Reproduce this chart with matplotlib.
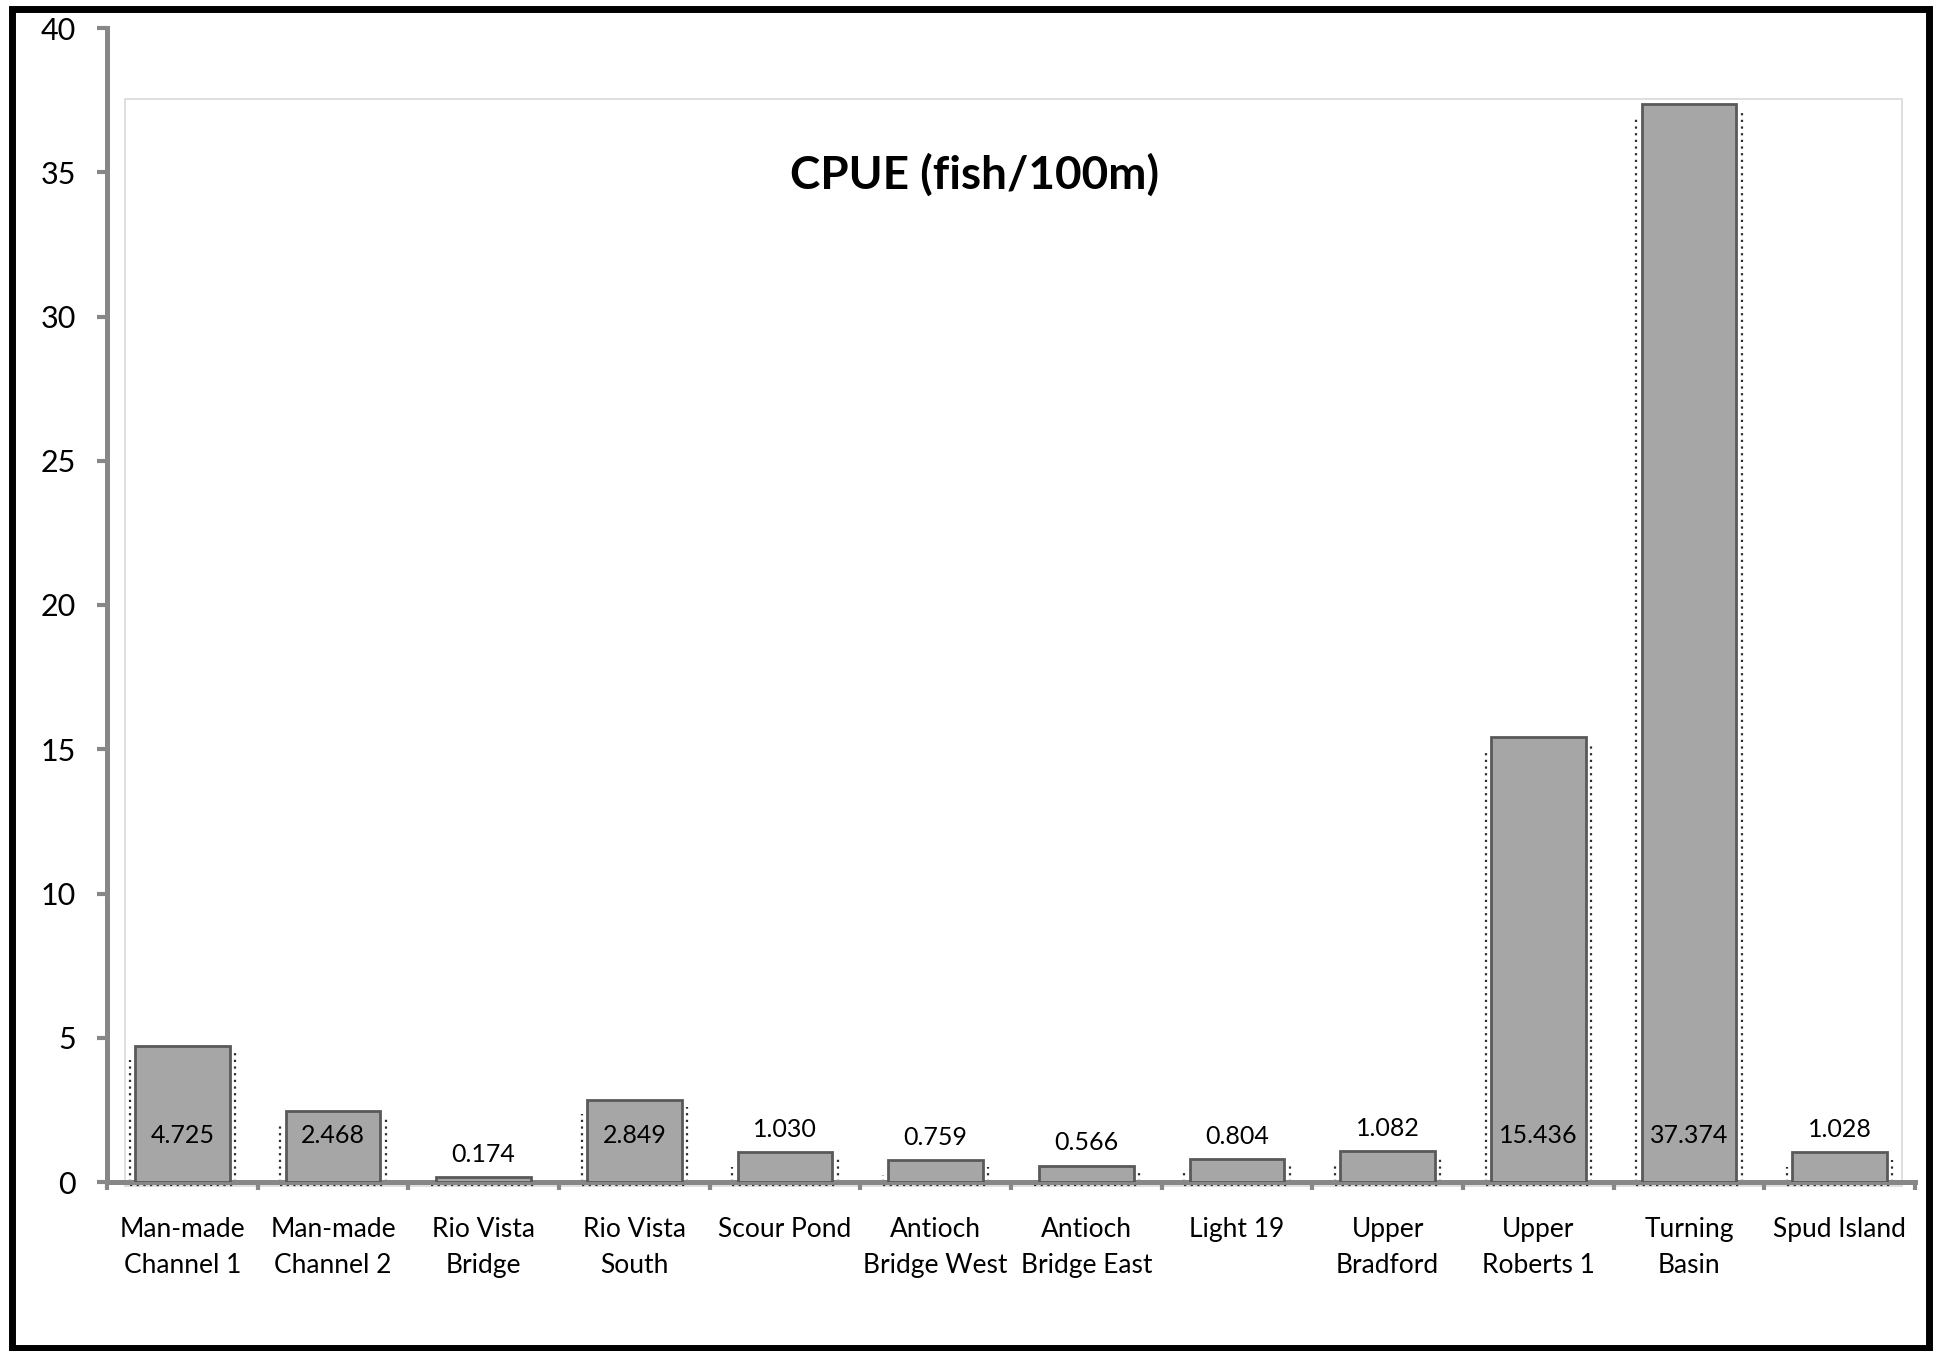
import matplotlib
matplotlib.use("Agg")
import matplotlib.pyplot as plt
from matplotlib.patches import Rectangle

plt.rcParams['font.family'] = ['Lato', 'DejaVu Sans']

sites = ["Man-made\nChannel 1", "Man-made\nChannel 2", "Rio Vista\nBridge",
         "Rio Vista\nSouth", "Scour Pond", "Antioch\nBridge West",
         "Antioch\nBridge East", "Light 19", "Upper\nBradford",
         "Upper\nRoberts 1", "Turning\nBasin", "Spud Island"]
cpue = [4.725, 2.468, 0.174, 2.849, 1.030, 0.759, 0.566, 0.804, 1.082,
        15.436, 37.374, 1.028]
y_ticks = [0, 5, 10, 15, 20, 25, 30, 35, 40]
title = "CPUE (fish/100m)"

W, H = 1941, 1351
DPI = 100
fig = plt.figure(figsize=(W / DPI, H / DPI), dpi=DPI)


def fx(px):
    return px / W


def fy(py):
    return 1 - py / H


# outer black frame and the faint plot-area outline
fig.patches.append(Rectangle((fx(12), fy(1348)), fx(1929) - fx(12), fy(9) - fy(1348),
                             transform=fig.transFigure, fill=False,
                             edgecolor='black', linewidth=5.0, zorder=10))
fig.patches.append(Rectangle((fx(125), fy(1186)), fx(1902) - fx(125), fy(99) - fy(1186),
                             transform=fig.transFigure, fill=False,
                             edgecolor='#d9d9d9', linewidth=1.2, zorder=-1))

ax = fig.add_axes([fx(107), fy(1182), fx(1915) - fx(107), fy(28) - fy(1182)])
ax.patch.set_alpha(0)

n = len(sites)
x = list(range(n))
bw = 0.63
ax.bar(x, cpue, width=bw, color='#a6a6a6', edgecolor='#595959',
       linewidth=2.0, zorder=3)

# dotted shadow outline beside each bar
dot = dict(color='#2e2e2e', linestyle=(0, (1, 2.0)), linewidth=1.6, zorder=2)
for xi, v in zip(x, cpue):
    left = xi - bw / 2 - 0.035
    right = xi + bw / 2 + 0.035
    ax.plot([left, left], [0, max(v - 0.5, 0)], **dot)
    ax.plot([right, right], [0, max(v - 0.25, 0)], **dot)
    ax.plot([left, right], [-0.12, -0.12], clip_on=False, **dot)

# value labels: inside near the base for tall bars, above otherwise
for xi, v in zip(x, cpue):
    if v > 2:
        ax.text(xi, 1.34, f"{v:.3f}", ha='center', va='baseline',
                fontsize=18, color='black', zorder=5)
    else:
        ax.annotate(f"{v:.3f}", (xi, v), xytext=(0, 11), textcoords='offset points',
                    ha='center', va='baseline', fontsize=18, color='black', zorder=5)

ax.set_xlim(-0.5, n - 0.5)
ax.set_ylim(0, 40)
ax.set_yticks(y_ticks)
ax.set_yticklabels([str(t) for t in y_ticks])

ax.set_xticks([k - 0.5 for k in range(n + 1)])
ax.set_xticklabels([])
ax.set_xticks(x, minor=True)
ax.set_xticklabels(sites, minor=True, fontsize=19, linespacing=1.55)

axis_col = '#878787'
for side in ('top', 'right'):
    ax.spines[side].set_visible(False)
for side in ('left', 'bottom'):
    ax.spines[side].set_color(axis_col)
    ax.spines[side].set_linewidth(3.6)

ax.tick_params(axis='y', which='major', direction='out', length=7.5, width=3.0,
               color=axis_col, labelsize=22, pad=15, labelcolor='black')
ax.tick_params(axis='x', which='major', direction='out', length=6, width=3.0,
               color=axis_col)
ax.tick_params(axis='x', which='minor', length=0, pad=25, labelcolor='black')
for lbl in ax.get_xticklabels(minor=True):
    lbl.set_verticalalignment('top')

fig.text(fx(975), fy(189), title, ha='center', va='baseline',
         fontsize=33, fontweight='bold', color='black')

fig.savefig("out.png", dpi=DPI)
